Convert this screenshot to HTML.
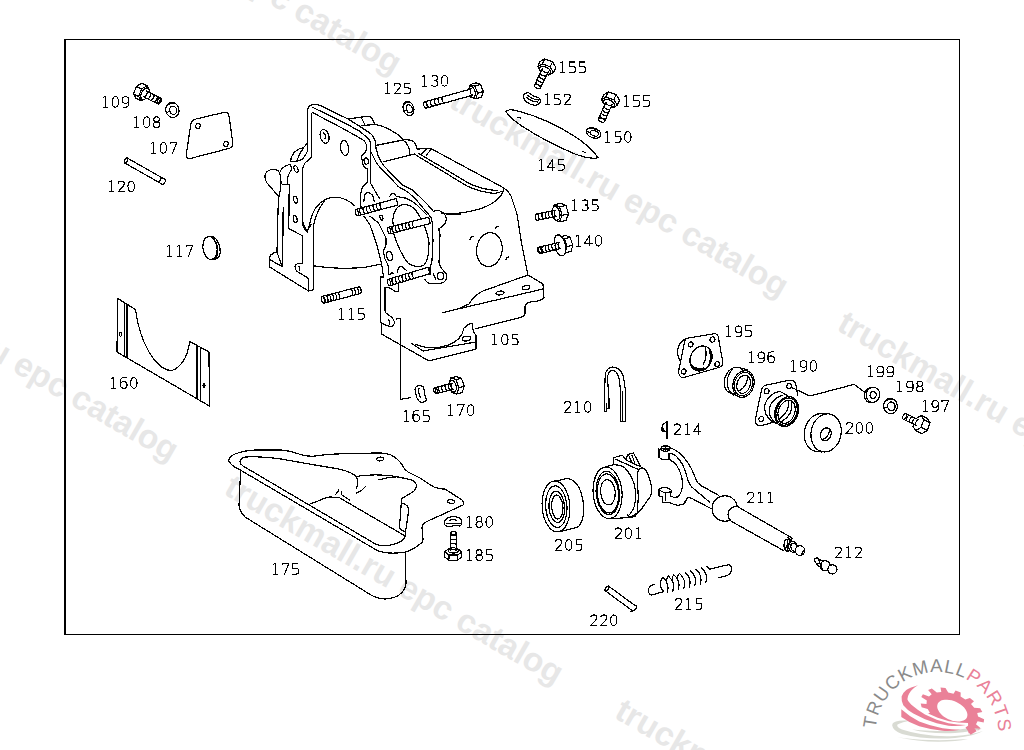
<!DOCTYPE html>
<html><head><meta charset="utf-8"><title>EPC catalog</title>
<style>
html,body{margin:0;padding:0;background:#fff;}
body{width:1024px;height:750px;overflow:hidden;position:relative;font-family:"Liberation Sans",sans-serif;}
svg{position:absolute;left:0;top:0;display:block}
.wm text{font-family:"Liberation Sans",sans-serif;font-weight:bold;font-size:33.4px;fill:#e7e7e7;}
.ln{shape-rendering:crispEdges;fill:none;stroke:#000;stroke-width:1.2;stroke-linecap:round;stroke-linejoin:round}
.ln .w{fill:#fff}
.ln .wf{fill:#fff;stroke:none}
.lb{shape-rendering:crispEdges;fill:none;stroke:#000;stroke-width:1.1;stroke-linecap:butt;stroke-linejoin:miter}
.fr{fill:none;stroke:#000;shape-rendering:crispEdges}
</style></head><body>
<svg width="1024" height="750" viewBox="0 0 1024 750">
<defs>
<g id="d0"><ellipse cx="5" cy="5.9" rx="3.25" ry="5.35"/></g>
<g id="d1"><path d="M2.4,11.3H7.6M5,11.3V0.5L2.6,1.5"/></g>
<g id="d2"><path d="M1.9,2.9C1.9,1.4 3.2,0.55 5,0.55C6.9,0.55 8.1,1.6 8.1,3.2C8.1,4.6 7.2,5.6 5.8,7L1.9,11.25H8.4"/></g>
<g id="d3"><path d="M2.2,1.6C3,0.9 4,0.55 5,0.55C6.8,0.55 8,1.6 8,3.1C8,4.6 6.8,5.6 4.8,5.6C7,5.6 8.3,6.7 8.3,8.4C8.3,10.1 7,11.25 5,11.25C3.8,11.25 2.8,10.9 1.9,10.2"/></g>
<g id="d4"><path d="M6.4,11.6V0.4L1.2,8.3H9.2"/></g>
<g id="d5"><path d="M8.1,0.55H2.4V5.1H5.4C7.3,5.1 8.3,6.3 8.3,8.1C8.3,10 7.3,11.25 5.4,11.25H2"/></g>
<g id="d6"><path d="M7.8,0.55H5.2C3,0.55 1.75,2 1.75,4.4V7.9"/><ellipse cx="5" cy="7.9" rx="3.25" ry="3.35"/></g>
<g id="d7"><path d="M1.8,2V0.55H8.3L4,11.6"/></g>
<g id="d8"><ellipse cx="5" cy="3.15" rx="2.8" ry="2.6"/><ellipse cx="5" cy="8.5" rx="3.25" ry="2.75"/></g>
<g id="d9"><path d="M2.2,11.25H4.8C7,11.25 8.25,9.8 8.25,7.4V3.9"/><ellipse cx="5" cy="3.9" rx="3.25" ry="3.35"/></g>
</defs>
<g class="wm">
<text transform="translate(447.4,106.2) rotate(30)">truckmall.ru epc catalog</text>
<text transform="translate(835.4,329.2) rotate(30)">truckmall.ru epc catalog</text>
<text transform="translate(222.4,493.2) rotate(30)">truckmall.ru epc catalog</text>
<text transform="translate(-162.6,270.2) rotate(30)">truckmall.ru epc catalog</text>
<text transform="translate(60.4,-116.8) rotate(30)">truckmall.ru epc catalog</text>
<text transform="translate(612.9,716.9) rotate(30)">truckmall.ru epc catalog</text>
</g>
<g class="fr">
<line x1="65" y1="39" x2="65" y2="635" stroke-width="2"/>
<line x1="64" y1="39.5" x2="960" y2="39.5" stroke-width="1"/>
<line x1="959.5" y1="39" x2="959.5" y2="635" stroke-width="1"/>
<line x1="64" y1="634.5" x2="960" y2="634.5" stroke-width="1"/>
</g>
<g class="ln">
<path d="M307.7,149.8V109.4Q308.5,105.5 312,104.8Q316.8,104 320.8,105.8L348,119L360.8,127L370.4,133.4Q374,136.5 374.8,140L375.6,143L376,148.4L378.4,156.4Q380.5,161 383.2,165L392,174.6L402.4,185L412,189.8L420,197L428,205L432.8,210.6M312,107L344.8,123L359.2,131L368,138.2Q370,140.5 370.4,143L370.4,182.8L379.6,198.8M311.6,157V114.2Q311.6,112.5 313,112.8L340,127L356,135.8L364,140.6Q366,142.5 366.2,144.6L366.4,149.4Q365.5,152.5 363.2,154Q361.5,156 361.6,157.2L363.2,165.2Q364.5,168 367.6,169.2V182Q365.5,184.5 363.2,186Q361,189 360.5,198L361,208M370.4,151.6L372,154L376,162Q378,165 380,167.4L388,175.4L398.4,186.6L408,192.2L416,199.4L423.2,208.2L428,213.8L431.2,217.8L432.8,225L432.2,232L433,240L432,260Q431.5,265 430,267V275M311.6,157L305,163Q303,166 302.6,169L302.4,222Q302.6,228 307.2,232.2L309.6,224.4M364,201.2C364,196 365,193 367.5,192.5C371,192.5 373.5,196 374.2,201.2"/>
<ellipse cx="324.6" cy="136.4" rx="4.3" ry="7" transform="rotate(-15 324.6 136.4)"/>
<path d="M323.5,133Q326,134 325,138.5"/>
<ellipse cx="344.6" cy="148" rx="4" ry="7.5" transform="rotate(-8 344.6 148)"/>
<ellipse cx="366.2" cy="161" rx="2.1" ry="3.2" transform="rotate(-10 366.2 161)"/>
<path d="M289.2,184.8L288.8,228.5L302.7,236V263.7H297.5Q294.5,265 295.2,267.5Q295.5,270 297,271.3L307,277.5Q308.5,278.5 308.5,280V291M299,266.4Q300.3,268 299.5,270.2M307.7,142.9L303.8,147.4Q299,148.3 294.2,152.2Q291.5,155.5 290.3,161.8M303.8,147.4Q299.5,153 296.6,161.2M307.7,149.8Q306.8,154.5 302,159.4Q299.5,161.2 296,161.3L290.6,161.2M279,196.8L267,183C263.5,178 264.5,172 270,170C275,168.5 279,170.5 279.6,172.8C281,177 282,185 279,196.8M279.6,172.8C281,169 285,165.5 289.8,164.4C291.5,166 291.5,169 291,170.4C289,174 287,177 287.4,180L288,184.8H282.6M278.4,196.8L277,252L281.9,266.4M283.2,207.6L282.4,266.4M282.9,212V236"/>
<ellipse cx="296" cy="169" rx="1.9" ry="3.5" transform="rotate(-20 296 169)"/>
<ellipse cx="295.6" cy="199.8" rx="1.9" ry="3.5" transform="rotate(-15 295.6 199.8)"/>
<ellipse cx="295.2" cy="219" rx="1.9" ry="3.5" transform="rotate(-10 295.2 219)"/>
<path d="M309.6,224.4C311,217 313,212 316,207.5C321,201 327,197.5 334.2,197.2C342,197 349,200.5 355,206M313.8,224.4C315,218 317,213 319.5,208.5C321,205.5 323,203 324.6,201M313.7,224.4V289.8L308.5,291L269.6,267V257Q271,253.5 276.5,252M269.6,259.5L281.9,266.4M302.7,222L306.9,231.7L311.2,224.3M313.9,265.9C330,268.5 350,269 367,267L381.5,264"/>
<path d="M348,119L359.2,117.4L368.8,116.2Q371,116.8 372,118.2L374.8,124.6M361.6,118.2L364.8,124.6M362,125.4L374.8,124.6C384,125.5 396,132 403,139M375.5,145.5L403,140Q409,139 413.5,141.5M383,162L415,154M403,140C408,143 410.5,150 409,155.5M413.5,141.5Q416.5,144 417,149M417,149L431,148.6L504,188Q509,192 511,196L517,214L521,240L528,275M426,149.5L421.5,154M431,149.5L426.5,155M415,154.5L467,186Q481,192.5 495,193.5L503.5,191M418,153L471,184.5Q485,190 497,190.5M504,188C503,197 493,205 478,209.5C465,213 450,214.5 441,213M433.6,211.4Q438,209.5 442,212Q446.5,215 446.2,219.5Q445.5,224.5 442,226.5L438.8,229L440,235L439,263Q440,267 442,269L446.5,274Q447,280 444,282L440,283.5H429Q426,282 425,279.5M446.2,214.4H460M433,273L436,280"/>
<path d="M392.8,220C393,212 397,206 402.4,204.8C409,203.5 415,208 419.2,215.6C423,222 427.5,232 429,243Q429,256 426,262Q424,266 422,266Q416,268 408,263Q400,253 394,235L392.8,220.4M389.8,196.5Q391,193 393.5,193.5Q395.5,194.5 396.4,196.4L406,198.2Q412,200.5 416.8,204.8L426.4,214.4M364,216.2L370,225L377,245L381.5,263L383.5,277M370,216.2L378.4,222.8L386,238V245L383.5,251L384.5,258L388,265L389,275M397.5,272Q398,267 401,266L406.5,270.5M390.5,274L392,272.5L393.5,273.5"/>
<ellipse cx="381.4" cy="217.6" rx="1.4" ry="2.6" transform="rotate(-15 381.4 217.6)"/>
<ellipse cx="389.5" cy="256" rx="2.8" ry="4.8" transform="rotate(-15 389.5 256)"/>
<ellipse cx="440.5" cy="275.8" rx="3.3" ry="3.6"/>
<path class="wf" d="M396.1,198.6L355.9,209.4L355.5,209.8L355.2,210.6L355.1,211.7L355.4,213L355.8,214.2L356.4,215.1L357,215.7L357.7,215.8L397.9,205Z"/><path d="M396.1,198.6L355.9,209.4M397.9,205L357.7,215.8M355.9,209.4L355.5,209.8L355.2,210.6L355.1,211.7L355.4,213L355.8,214.2L356.4,215.1L357,215.7L357.7,215.8L358.1,215.4L358.4,214.6L358.5,213.5L358.2,212.2L357.8,211L357.2,210.1L356.6,209.5L355.9,209.4ZM396.1,198.6L397.9,205M380.7,202.8L380.1,203.4L379.9,204.7L380.1,206.3L380.7,207.9L381.6,208.9L382.4,209.1M377.3,203.7L376.7,204.3L376.5,205.6L376.7,207.2L377.4,208.8L378.2,209.8L379,210M373.9,204.6L373.3,205.2L373.1,206.5L373.4,208.2L374,209.7L374.8,210.7L375.6,211M370.6,205.5L369.9,206.1L369.7,207.4L370,209.1L370.6,210.6L371.4,211.6L372.3,211.9M367.2,206.4L366.6,207L366.4,208.3L366.6,210L367.2,211.5L368.1,212.5L368.9,212.8M363.8,207.3L363.2,207.9L363,209.2L363.2,210.9L363.8,212.4L364.7,213.4L365.5,213.7M360.4,208.2L359.8,208.8L359.6,210.1L359.8,211.8L360.5,213.3L361.3,214.4L362.1,214.6"/>
<path class="wf" d="M428.6,217.2L388.4,227.4L387.9,227.8L387.6,228.6L387.6,229.7L387.8,231L388.2,232.2L388.8,233.1L389.4,233.7L390,233.8L430.2,223.6Z"/><path d="M428.6,217.2L388.4,227.4M430.2,223.6L390,233.8M388.4,227.4L387.9,227.8L387.6,228.6L387.6,229.7L387.8,231L388.2,232.2L388.8,233.1L389.4,233.7L390,233.8L390.5,233.4L390.8,232.6L390.8,231.5L390.6,230.2L390.2,229L389.6,228.1L389,227.5L388.4,227.4ZM428.6,217.2L430.2,223.6M413.1,221.1L412.5,221.7L412.2,223.1L412.5,224.7L413.1,226.3L413.9,227.3L414.7,227.5M409.7,222L409.1,222.6L408.8,223.9L409.1,225.6L409.7,227.1L410.5,228.1L411.3,228.4M406.3,222.9L405.7,223.5L405.5,224.8L405.7,226.4L406.3,228L407.1,229L407.9,229.3M402.9,223.7L402.3,224.3L402.1,225.6L402.3,227.3L402.9,228.8L403.7,229.9L404.5,230.1M399.5,224.6L398.9,225.2L398.7,226.5L398.9,228.1L399.5,229.7L400.3,230.7L401.1,231M396.1,225.4L395.5,226.1L395.3,227.4L395.5,229L396.1,230.6L396.9,231.6L397.7,231.8M392.7,226.3L392.1,226.9L391.9,228.2L392.1,229.9L392.7,231.4L393.5,232.5L394.3,232.7"/>
<path class="wf" d="M428.1,267.3L388.1,279.3L387.6,279.7L387.3,280.6L387.3,281.7L387.6,282.9L388,284.1L388.7,285L389.3,285.6L389.9,285.7L429.9,273.7Z"/><path d="M428.1,267.3L388.1,279.3M429.9,273.7L389.9,285.7M388.1,279.3L387.6,279.7L387.3,280.6L387.3,281.7L387.6,282.9L388,284.1L388.7,285L389.3,285.6L389.9,285.7L390.4,285.3L390.7,284.4L390.7,283.3L390.4,282.1L390,280.9L389.3,280L388.7,279.4L388.1,279.3ZM428.1,267.3L429.9,273.7M412.7,271.9L412.1,272.6L412,273.9L412.3,275.5L412.9,277L413.8,278L414.6,278.3M409.4,272.9L408.8,273.6L408.6,274.9L408.9,276.5L409.6,278.1L410.4,279.1L411.3,279.3M406,273.9L405.4,274.6L405.3,275.9L405.5,277.5L406.2,279.1L407.1,280.1L407.9,280.3M402.7,275L402.1,275.6L401.9,276.9L402.2,278.5L402.9,280.1L403.7,281.1L404.6,281.3M399.3,276L398.7,276.6L398.6,277.9L398.8,279.5L399.5,281.1L400.4,282.1L401.2,282.3M396,277L395.4,277.6L395.2,278.9L395.5,280.6L396.2,282.1L397,283.1L397.9,283.3M392.6,278L392,278.6L391.9,279.9L392.1,281.6L392.8,283.1L393.7,284.1L394.5,284.3"/>
<path d="M384,277H380.5V322L381.5,323V334L400,344.5L429,361L476,349V335Q473.5,333 473,330L472,323Q468,324 464,328M398.5,285V291L396,292L389,287.5H385V310Q385,313 388,314.5Q393,317.5 394.5,322Q394,326 391,326.5Q386,326 381.5,323M388.5,319.5Q390.5,321.5 389.5,324M396.5,319L400.6,318.5M411,343L423,351L476,342M415,344C424,348 433,348.5 441,347C451,345 459,340 462,334L464,328M528,275L543,284L544,298Q540,301 535,301.5Q526,302 525,306V314Q523,317.5 519,318L475,329M528,275L483,291Q475,294.5 469,304L457,309.5M443,312.5L543,289"/>
<ellipse cx="500" cy="293" rx="4" ry="1.9" transform="rotate(-8 500 293)"/>
<ellipse cx="526" cy="287.6" rx="4" ry="1.9" transform="rotate(-8 526 287.6)"/>
<ellipse cx="466.6" cy="338.6" rx="4.3" ry="2.3" transform="rotate(-8 466.6 338.6)"/>
<ellipse cx="489.4" cy="249.6" rx="12.8" ry="17" transform="rotate(8 489.4 249.6)"/>
<path d="M470,240Q470,236.5 473,236.5M506,260Q506,257 509,257M495,229Q496,226 499,227"/>
<path d="M400.6,318.5V399.4L410.6,397.6"/>
<path class="w" d="M133.5,93.9L136.4,86.3L141.9,83.2L147,85.8L149.6,90.2L146.6,97.8L141.2,100.9L136,98.3Z"/><path d="M147,85.8L141.6,88.9L138.7,96.5L141.2,100.9L146.6,97.8L149.6,90.2ZM141.9,83.2L136.4,86.3L133.5,93.9L136,98.3M147,85.8L141.9,83.2M141.6,88.9L136.4,86.3M138.7,96.5L133.5,93.9M141.2,100.9L136,98.3"/><path class="w" d="M147.8,88.2L146.7,88L145.5,88.3L144.2,89.2L142.9,90.6L141.9,92.2L141.2,94.1L140.8,95.8L140.9,97.4L141.3,98.7L142.2,99.4L143.3,99.6L144.5,99.3L145.8,98.4L147.1,97L148.1,95.4L148.8,93.5L149.2,91.8L149.1,90.2L148.7,88.9L147.8,88.2Z"/><path class="wf" d="M143.5,96.7L157.8,103.9L158.5,104L159.4,103.7L160.2,102.9L160.9,101.8L161.4,100.6L161.5,99.5L161.3,98.6L160.8,98.1L146.5,90.9Z"/><path d="M143.5,96.7L157.8,103.9M146.5,90.9L160.8,98.1M157.8,103.9L158.5,104L159.4,103.7L160.2,102.9L160.9,101.8L161.4,100.6L161.5,99.5L161.3,98.6L160.8,98.1L160.1,98L159.2,98.3L158.4,99.1L157.7,100.2L157.2,101.4L157.1,102.5L157.3,103.4L157.8,103.9ZM143.5,96.7L144.2,96.8L145.1,96.5L145.9,95.7L146.6,94.6L147.1,93.4L147.2,92.3L147,91.4L146.5,90.9M147.1,98.6L148.1,98.6L149.2,97.8L150.2,96.4L150.7,94.8L150.7,93.5L150.1,92.7M150.3,100.2L151.3,100.2L152.5,99.4L153.4,98L153.9,96.5L153.9,95.1L153.3,94.3M153.5,101.8L154.5,101.8L155.7,101L156.6,99.7L157.2,98.1L157.1,96.7L156.5,95.9M156.7,103.4L157.8,103.4L158.9,102.6L159.8,101.3L160.4,99.7L160.3,98.3L159.7,97.5"/>
<ellipse cx="172.4" cy="110" rx="6.6" ry="7.6" transform="rotate(-15 172.4 110)"/><ellipse cx="173.2" cy="110.3" rx="3.6" ry="4.2" transform="rotate(-15 173.2 110.3)"/><path transform="rotate(-15 172.4 110)" d="M165.8,111L169.8,110.5M166.5,106.2Q170.4,102 176.4,103.9"/>
<path d="M190.8,124Q192,120 196,119L224,112.4Q228.5,111.5 229,116L232.8,143Q233.3,147 229.5,148.3L191,158.3Q186,159.2 186.3,154.5Z"/>
<ellipse cx="198" cy="126" rx="2.2" ry="2.7" transform="rotate(20 198 126)"/>
<ellipse cx="226" cy="144" rx="2.2" ry="2.7" transform="rotate(20 226 144)"/>
<path class="wf" d="M124.6,162.9L162.1,184.2L162.7,184.3L163.4,184L164.1,183.4L164.7,182.5L165.2,181.5L165.3,180.6L165.2,179.8L164.9,179.4L127.4,158.1Z"/><path d="M124.6,162.9L162.1,184.2M127.4,158.1L164.9,179.4M162.1,184.2L162.7,184.3L163.4,184L164.1,183.4L164.7,182.5L165.2,181.5L165.3,180.6L165.2,179.8L164.9,179.4M124.6,162.9L125.2,163L125.9,162.7L126.6,162.1L127.2,161.2L127.7,160.2L127.8,159.3L127.7,158.5L127.4,158.1L126.8,158L126.1,158.3L125.4,158.9L124.8,159.8L124.3,160.8L124.2,161.7L124.3,162.5L124.6,162.9ZM157.8,181.8L158.6,181.8L159.6,181.2L160.4,180.1L161,178.7L161,177.6L160.6,176.9"/>
<ellipse cx="210" cy="248" rx="7" ry="11.6" transform="rotate(-8 210 248)"/>
<path d="M209,236.6Q213,235.5 216,239Q221,246 220,254Q219,259 213,259.5M211.5,236.6Q218.5,243 217.5,253Q217,258 214,259.5"/>
<ellipse cx="408.5" cy="108.5" rx="5.2" ry="7.4" transform="rotate(-20 408.5 108.5)"/><ellipse cx="409.3" cy="108.8" rx="2.9" ry="4.1" transform="rotate(-20 409.3 108.8)"/><path transform="rotate(-20 408.5 108.5)" d="M403.3,109.5L406.4,109M403.8,104.8Q406.9,100.7 411.6,102.6"/>
<path class="w" d="M468.4,90.2L470.2,84.5L476,82.9L480.6,84.4L483.3,91.6L481.5,97.3L475.8,98.9L471.1,97.4Z"/><path d="M475.7,98.9L477.6,93.2L474.8,86L470.2,84.5L468.4,90.2L471.1,97.4ZM481.5,97.3L483.3,91.6L480.6,84.4L476,82.9M475.7,98.9L481.5,97.3M477.6,93.2L483.3,91.6M474.8,86L480.6,84.4M470.2,84.5L476,82.9"/><path class="w" d="M473.5,97.4L474.4,96.9L475,95.9L475.3,94.5L475.3,92.9L475,91.2L474.4,89.5L473.5,88.2L472.5,87.1L471.5,86.6L470.5,86.6L469.6,87.1L469,88.1L468.7,89.5L468.7,91.1L469,92.8L469.6,94.5L470.5,95.8L471.5,96.9L472.5,97.4L473.5,97.4Z"/><path class="wf" d="M471.1,88.9L424.6,101.9L424.1,102.3L423.7,103.2L423.6,104.3L423.8,105.5L424.3,106.6L424.9,107.5L425.6,108L426.4,108.1L472.9,95.1Z"/><path d="M471.1,88.9L424.6,101.9M472.9,95.1L426.4,108.1M424.6,101.9L424.1,102.3L423.7,103.2L423.6,104.3L423.8,105.5L424.3,106.6L424.9,107.5L425.6,108L426.4,108.1L426.9,107.7L427.3,106.8L427.4,105.7L427.2,104.5L426.7,103.4L426.1,102.5L425.4,102L424.6,101.9ZM471.1,88.9L470.6,89.3L470.2,90.2L470.1,91.3L470.3,92.5L470.8,93.6L471.4,94.5L472.1,95L472.9,95.1M442.9,96.8L442.2,97.5L441.9,98.8L442.1,100.4L442.8,101.8L443.7,102.8L444.7,103M439.1,97.9L438.4,98.5L438,99.8L438.3,101.4L438.9,102.9L439.8,103.9L440.8,104M435.2,99L434.5,99.6L434.2,100.9L434.4,102.5L435.1,104L436,104.9L437,105.1M431.4,100L430.6,100.7L430.3,102L430.5,103.6L431.2,105.1L432.1,106L433.1,106.2M427.5,101.1L426.8,101.8L426.5,103.1L426.7,104.7L427.4,106.1L428.3,107.1L429.3,107.3"/>
<path class="w" d="M537.7,66.6L540.1,61.6L544.6,59L552.5,61.9L555.9,67.4L553.5,72.4L549,75.1L541.1,72.2Z"/><path d="M553.5,72.4L550.2,66.8L542.3,63.9L537.7,66.6L541.1,72.2L549,75.1ZM555.9,67.4L552.5,61.8L544.7,58.9L540.1,61.6M553.5,72.4L555.9,67.4M550.2,66.8L552.5,61.8M542.3,63.9L544.7,58.9M537.7,66.6L540.1,61.6"/><path class="w" d="M550.6,73L550.8,72L550.4,70.8L549.5,69.5L548.2,68.4L546.6,67.4L544.9,66.8L543.2,66.5L541.7,66.5L540.5,67L539.8,67.8L539.6,68.8L540,70L540.9,71.3L542.2,72.4L543.8,73.4L545.5,74L547.2,74.3L548.7,74.3L549.9,73.8L550.6,73Z"/><path class="wf" d="M542.2,69L534.4,85.2L534.4,85.9L534.7,86.7L535.5,87.6L536.6,88.2L537.8,88.7L538.9,88.8L539.8,88.5L540.4,88L548.2,71.8Z"/><path d="M542.2,69L534.4,85.2M548.2,71.8L540.4,88M534.4,85.2L534.4,85.9L534.7,86.7L535.5,87.6L536.6,88.2L537.8,88.7L538.9,88.8L539.8,88.5L540.4,88L540.4,87.3L540.1,86.5L539.3,85.6L538.2,85L537,84.5L535.9,84.4L535,84.7L534.4,85.2ZM542.2,69L542.2,69.7L542.5,70.5L543.3,71.4L544.4,72L545.6,72.5L546.7,72.6L547.6,72.3L548.2,71.8M540.5,72.6L540.5,73.6L541.3,74.7L542.7,75.6L544.3,76.1L545.7,76L546.4,75.4M539,75.6L539,76.6L539.8,77.7L541.2,78.7L542.8,79.2L544.2,79.1L545,78.5M537.6,78.7L537.6,79.7L538.4,80.8L539.7,81.7L541.3,82.2L542.7,82.2L543.5,81.5M536.1,81.7L536.1,82.8L536.9,83.9L538.3,84.8L539.9,85.3L541.2,85.2L542,84.6"/>
<path class="w" d="M601.4,99.8L603.7,94.8L608.1,92L616.1,94.6L619.6,100.1L617.4,105.2L612.9,108L605,105.3Z"/><path d="M617.4,105.2L613.9,99.7L605.9,97L601.4,99.8L605,105.3L612.9,108ZM619.6,100.1L616.1,94.6L608.1,92L603.7,94.8M617.4,105.2L619.6,100.1M613.9,99.7L616.1,94.6M605.9,97L608.1,92M601.4,99.8L603.7,94.8"/><path class="w" d="M614.5,105.8L614.6,104.8L614.2,103.6L613.3,102.4L612,101.3L610.3,100.4L608.6,99.8L606.9,99.5L605.4,99.7L604.2,100.1L603.5,101L603.4,102L603.8,103.2L604.7,104.4L606,105.5L607.7,106.4L609.4,107L611.1,107.3L612.6,107.1L613.8,106.7L614.5,105.8Z"/><path class="wf" d="M606,102.1L598.5,118.9L598.4,119.6L598.8,120.4L599.7,121.2L600.8,121.9L602,122.2L603.1,122.3L604,122.1L604.5,121.5L612,104.7Z"/><path d="M606,102.1L598.5,118.9M612,104.7L604.5,121.5M598.5,118.9L598.4,119.6L598.8,120.4L599.7,121.2L600.8,121.9L602,122.2L603.1,122.3L604,122.1L604.5,121.5L604.6,120.8L604.2,120L603.3,119.2L602.2,118.5L601,118.2L599.9,118.1L599,118.3L598.5,118.9ZM606,102.1L605.9,102.8L606.3,103.6L607.2,104.4L608.3,105.1L609.5,105.4L610.6,105.5L611.5,105.3L612,104.7M604.2,106.1L604.2,107.1L605.1,108.2L606.5,109.1L608.1,109.5L609.4,109.4L610.2,108.8M602.8,109.2L602.8,110.2L603.7,111.3L605.1,112.2L606.7,112.6L608.1,112.5L608.8,111.9M601.4,112.3L601.5,113.3L602.3,114.4L603.7,115.3L605.3,115.7L606.7,115.6L607.4,115M600,115.4L600.1,116.4L600.9,117.5L602.3,118.4L603.9,118.8L605.3,118.7L606.1,118.1"/>
<path d="M524,94.6Q526,92 529,93Q533,96.5 539.6,98.2Q541,100 540,102.5Q538,105.5 535,105.4Q530,105 526,101.5Q522.5,98.5 524,94.6ZM526.5,97.2Q531,101.8 537.5,102M528,95.5Q532,99.3 538.5,100"/>
<ellipse cx="593.6" cy="133" rx="7.6" ry="4.8" transform="rotate(20 593.6 133)"/><ellipse cx="594.4" cy="133.3" rx="4.2" ry="2.6" transform="rotate(20 594.4 133.3)"/><path transform="rotate(20 593.6 133)" d="M586,134L590.6,133.5M586.8,130.6Q591.3,128 598.2,129.2"/>
<path d="M506,111.3Q508.5,108.5 518,111Q548,119 575,136.5Q592,148 598,157.8Q590,159.5 575,154Q548,143 521,125.5Q508,116.5 506,111.3Z"/>
<path d="M518,117.2L521,118.2M582.5,151.5L585.5,152.5"/>
<path class="w" d="M551.8,211.1L554.4,204.7L560.8,203.4L566,205.6L568.5,214.1L565.9,220.5L559.5,221.7L554.4,219.6Z"/><path d="M559.5,221.7L562.1,215.3L559.6,206.8L554.4,204.7L551.8,211.1L554.4,219.6ZM565.9,220.5L568.5,214.1L566,205.6L560.8,203.4M559.5,221.7L565.9,220.5M562.1,215.3L568.5,214.1M559.6,206.8L566,205.6M554.4,204.7L560.8,203.4"/><path class="w" d="M557.3,220.3L558.4,219.7L559.3,218.5L559.8,216.8L560,214.8L559.8,212.7L559.2,210.6L558.3,208.8L557.1,207.4L555.9,206.6L554.7,206.5L553.6,207.1L552.7,208.3L552.2,210L552,212L552.2,214.1L552.8,216.2L553.7,218L554.9,219.4L556.1,220.2L557.3,220.3Z"/><path class="wf" d="M555.4,210.3L536.4,214L535.8,214.3L535.3,215.1L535.2,216.2L535.3,217.4L535.6,218.6L536.2,219.6L536.9,220.1L537.6,220.2L556.6,216.5Z"/><path d="M555.4,210.3L536.4,214M556.6,216.5L537.6,220.2M536.4,214L535.8,214.3L535.3,215.1L535.2,216.2L535.3,217.4L535.6,218.6L536.2,219.6L536.9,220.1L537.6,220.2L538.2,219.9L538.7,219.1L538.8,218L538.7,216.8L538.4,215.6L537.8,214.6L537.1,214.1L536.4,214ZM555.4,210.3L554.8,210.6L554.3,211.4L554.2,212.5L554.3,213.7L554.6,214.9L555.2,215.9L555.9,216.4L556.6,216.5M553.1,210.7L552.3,211.3L551.9,212.6L552,214.2L552.5,215.7L553.4,216.7L554.3,217M549.7,211.4L549,211.9L548.5,213.2L548.6,214.8L549.2,216.4L550,217.4L551,217.6M546.4,212L545.6,212.6L545.2,213.9L545.3,215.5L545.8,217L546.7,218L547.6,218.3M543.1,212.7L542.3,213.2L541.9,214.5L541.9,216.1L542.5,217.7L543.3,218.7L544.3,218.9M539.7,213.3L538.9,213.9L538.5,215.2L538.6,216.8L539.1,218.3L540,219.3L540.9,219.6"/>
<path class="w" d="M557.9,242.9L559.7,236.8L565.6,235.4L570.1,237.3L572.8,245.3L571,251.4L565.1,252.8L560.5,250.9Z"/><path d="M565.1,252.8L567,246.7L564.3,238.7L559.7,236.8L557.9,242.9L560.6,250.9ZM571,251.4L572.8,245.3L570.1,237.3L565.6,235.4M565.1,252.8L571,251.4M567,246.7L572.8,245.3M564.3,238.7L570.1,237.3M559.7,236.8L565.6,235.4"/><path class="w" d="M562.5,255.9L564,255L565.1,253.1L565.7,250.5L565.8,247.4L565.2,244.1L564.2,240.9L562.7,238.2L561,236.2L559.2,235L557.5,234.9L556,235.8L554.9,237.7L554.3,240.3L554.2,243.4L554.8,246.7L555.8,249.9L557.3,252.6L559,254.6L560.8,255.8L562.5,255.9Z"/><path class="wf" d="M559.2,242.3L538.6,247.3L538,247.7L537.7,248.5L537.5,249.6L537.7,250.8L538.1,252L538.7,252.9L539.4,253.4L540.2,253.5L560.8,248.5Z"/><path d="M559.2,242.3L538.6,247.3M560.8,248.5L540.2,253.5M538.6,247.3L538,247.7L537.7,248.5L537.5,249.6L537.7,250.8L538.1,252L538.7,252.9L539.4,253.4L540.2,253.5L540.8,253.1L541.1,252.3L541.3,251.2L541.1,250L540.7,248.8L540.1,247.9L539.4,247.4L538.6,247.3ZM559.2,242.3L558.6,242.7L558.3,243.5L558.1,244.6L558.3,245.8L558.7,247L559.3,247.9L560,248.4L560.8,248.5M556.1,243L555.4,243.7L555,245L555.2,246.6L555.8,248.1L556.7,249.1L557.6,249.3M552.8,243.8L552.1,244.5L551.7,245.8L551.9,247.4L552.5,248.9L553.4,249.9L554.3,250.1M549.5,244.6L548.8,245.3L548.4,246.6L548.6,248.2L549.2,249.7L550.1,250.7L551,250.9M546.2,245.5L545.5,246.1L545.1,247.4L545.3,249L545.9,250.5L546.8,251.5L547.7,251.7M542.9,246.3L542.2,246.9L541.8,248.2L542,249.8L542.6,251.3L543.5,252.3L544.4,252.5M539.6,247.1L538.9,247.7L538.5,249L538.7,250.6L539.3,252.1L540.2,253.1L541.1,253.3"/>
<path class="wf" d="M323.9,303.1L360.4,293.5L360.9,293.1L361.2,292.2L361.2,291.1L361,289.8L360.5,288.6L359.9,287.6L359.3,287L358.6,286.9L322.1,296.5Z"/><path d="M323.9,303.1L360.4,293.5M322.1,296.5L358.6,286.9M360.4,293.5L360.9,293.1L361.2,292.2L361.2,291.1L361,289.8L360.5,288.6L359.9,287.6L359.3,287L358.6,286.9M323.9,303.1L324.4,302.7L324.7,301.8L324.7,300.7L324.5,299.4L324,298.2L323.4,297.2L322.8,296.6L322.1,296.5L321.6,296.9L321.3,297.8L321.3,298.9L321.5,300.2L322,301.4L322.6,302.4L323.2,303L323.9,303.1ZM324.3,303L325,302.3L325.2,301L325,299.3L324.3,297.7L323.5,296.6L322.6,296.4M327.2,302.2L327.9,301.6L328.1,300.2L327.9,298.5L327.2,296.9L326.4,295.9L325.5,295.6M330.2,301.4L330.8,300.8L331,299.5L330.8,297.8L330.1,296.2L329.3,295.1L328.4,294.9M333.1,300.7L333.7,300L333.9,298.7L333.7,297L333,295.4L332.2,294.3L331.3,294.1M336,299.9L336.6,299.3L336.8,297.9L336.6,296.2L335.9,294.6L335.1,293.6L334.2,293.3M338.9,299.1L339.5,298.5L339.7,297.2L339.5,295.5L338.8,293.9L338,292.8L337.1,292.6M351.9,295.7L352.5,295.1L352.8,293.7L352.5,292L351.9,290.4L351,289.4L350.2,289.1M354.8,294.9L355.4,294.3L355.7,293L355.4,291.3L354.8,289.7L353.9,288.6L353.1,288.4M357.7,294.2L358.3,293.6L358.6,292.2L358.3,290.5L357.7,288.9L356.8,287.9L356,287.6"/>
<path d="M117.6,298.4L135.6,309.6C137,322 140,336 149,352C155,362 162,369.5 170,370.5C178,370.5 185.5,360 188,350L190,341.6L209,352L209.4,406L117,352ZM124.6,303V356.5M127,304.5V358M197,346V399M200.4,347.6V401"/>
<ellipse cx="120.5" cy="334.4" rx="1.1" ry="1.8"/>
<ellipse cx="204" cy="385.4" rx="1.1" ry="1.8"/>
<path d="M415,389Q416,385 420.5,385.5Q423.5,386 424,389Q424,395 426.5,400Q425,402.5 421,402.5Q416,400 415,389ZM419,388Q417.5,393 421,398"/>
<path class="w" d="M448.7,384.2L450.8,377.9L456.3,376.5L461.4,378.2L464.3,386.3L462.1,392.7L456.7,394.1L451.6,392.3Z"/><path d="M456.7,394L458.9,387.7L455.9,379.6L450.8,377.9L448.7,384.2L451.6,392.3ZM462.1,392.7L464.3,386.3L461.4,378.2L456.3,376.5M456.7,394L462.1,392.7M458.9,387.7L464.3,386.3M455.9,379.6L461.4,378.2M450.8,377.9L456.3,376.5"/><path class="w" d="M454.3,392L455.2,391.5L455.9,390.4L456.3,389L456.3,387.2L456,385.4L455.4,383.6L454.5,382.1L453.5,381L452.4,380.4L451.3,380.4L450.4,380.9L449.7,382L449.3,383.4L449.3,385.2L449.6,387L450.2,388.8L451.1,390.3L452.1,391.4L453.2,392L454.3,392Z"/><path class="wf" d="M452,383.2L434.8,387.6L434.3,388L433.9,388.8L433.8,389.8L433.9,391L434.4,392.1L435,393L435.7,393.5L436.4,393.6L453.6,389.2Z"/><path d="M452,383.2L434.8,387.6M453.6,389.2L436.4,393.6M434.8,387.6L434.3,388L433.9,388.8L433.8,389.8L433.9,391L434.4,392.1L435,393L435.7,393.5L436.4,393.6L436.9,393.2L437.3,392.4L437.4,391.4L437.3,390.2L436.8,389.1L436.2,388.2L435.5,387.7L434.8,387.6ZM452,383.2L451.5,383.6L451.1,384.4L451,385.4L451.1,386.6L451.6,387.7L452.2,388.6L452.9,389.1L453.6,389.2M449.4,383.9L448.6,384.5L448.3,385.7L448.5,387.3L449.1,388.8L450,389.7L450.9,389.9M446.1,384.7L445.3,385.3L445,386.6L445.2,388.1L445.8,389.6L446.7,390.5L447.6,390.7M442.8,385.6L442.1,386.2L441.7,387.4L441.9,389L442.5,390.4L443.4,391.4L444.3,391.6M439.5,386.4L438.8,387L438.4,388.3L438.6,389.8L439.2,391.3L440.1,392.2L441,392.4M436.2,387.2L435.5,387.9L435.1,389.1L435.3,390.7L435.9,392.1L436.8,393.1L437.7,393.3"/>
<path d="M444.5,522Q445,517.5 453,516.4Q461,517 461.8,521.5Q462,525 460,526L455.8,525.4L450,526.6L445.5,525.8Q444,524.5 444.5,522ZM448.9,521Q453,517.4 456.7,520.6M446.3,523.6H460"/>
<path class="w" d="M444.6,556.9L444.7,551.7L449,548.6L457.6,548.7L461.9,551.9L461.8,557.1L457.5,560.2L448.9,560.1Z"/><path d="M444.7,551.7L449,554.9L457.6,555L461.9,551.9L457.6,548.7L449,548.6ZM444.6,556.9L448.9,560.1L457.5,560.2L461.8,557.1M444.7,551.7L444.6,556.9M449,554.9L448.9,560.1M457.6,555L457.5,560.2M461.9,551.9L461.8,557.1"/><path class="w" d="M448.1,550.7L448.3,551.4L449.1,552L450.2,552.5L451.7,552.9L453.3,553L454.9,552.9L456.3,552.6L457.5,552.1L458.2,551.5L458.5,550.9L458.3,550.2L457.5,549.6L456.4,549.1L454.9,548.7L453.3,548.6L451.7,548.7L450.3,549L449.1,549.5L448.4,550.1L448.1,550.7Z"/><path class="wf" d="M456.2,550.8L456.4,533L456.2,532.5L455.6,532.1L454.6,531.8L453.5,531.7L452.4,531.8L451.5,532.1L450.8,532.5L450.6,533L450.4,550.8Z"/><path d="M456.2,550.8L456.4,533M450.4,550.8L450.6,533M456.4,533L456.2,532.5L455.6,532.1L454.6,531.8L453.5,531.7L452.4,531.8L451.5,532.1L450.8,532.5L450.6,533L450.8,533.5L451.4,533.9L452.4,534.2L453.5,534.3L454.6,534.2L455.5,533.9L456.2,533.5L456.4,533ZM456.2,550.8L456,550.3L455.4,549.9L454.4,549.6L453.3,549.5L452.2,549.6L451.3,549.9L450.6,550.3L450.4,550.8M456.2,549L455.8,548.4L454.8,547.9L453.3,547.7L451.9,547.9L450.8,548.3L450.4,549M456.3,544.8L455.9,544.2L454.8,543.7L453.4,543.5L451.9,543.7L450.9,544.1L450.5,544.8M456.3,540.6L455.9,540L454.9,539.5L453.4,539.3L452,539.5L450.9,539.9L450.5,540.6M456.4,536.4L456,535.8L454.9,535.3L453.5,535.1L452,535.3L451,535.7L450.6,536.4"/>
<path d="M228.6,460.6Q229.5,456.5 235,454Q244,450.5 255,450H281Q290,450.5 299,454Q307,457 315,456Q325,454.5 335,454L375,453Q385,452.5 391,455Q397,458 402,464.5Q404,469.5 408,472L420,478Q427,483 434,487Q440,489.5 445,489L462,500Q464,502.5 463,505L450,511L428,521Q422,523.5 422,528L423,539Q423,543 420,544Q413,550 405.3,552Q395,554 384,552.5Q378,551.5 373.3,548.2L240.6,470.2Q231,466 228.6,460.6ZM240,461.8Q241,457.5 246,457Q262,456 281,459L315,465L339,469Q350,471.5 355,475.5Q358.5,479 357.3,484L356.8,488.5M240,461.8Q240.5,464.5 243,466L375.4,544Q379.5,545.8 384,545.6Q390,545.5 394.6,544Q400,542.5 403.2,539.7Q405,537.5 405.3,535.4V532.2M240.6,470.2L239,505Q239.5,512 245,517L371,595Q378,599 385,599Q394,598.5 399,595Q405.5,590 406,584L405.3,552M309,504.4L320,500.3Q326,497 330.7,497L339.2,497.6L404.2,535.4M335.5,494.4Q338,492.5 338.7,489.6M341.3,491.2Q341,493.5 341.9,494.9L349.9,500.3M356.2,493.3Q362,491 365.8,486.4M356,476.5Q367,474.5 380,475Q392,475.5 398,477Q406,478.5 411.7,480Q416.5,482.5 416.5,485.9Q416,489 413.8,491.2L401.6,498.7L399.4,528.5L405.3,532.2M378,480Q386,477.5 396,477M401.6,502.9Q405,503.5 407.4,506.1Q409,508.5 408.5,512L405.3,533.3"/>
<ellipse cx="380.2" cy="459" rx="3.5" ry="1.9" transform="rotate(-5 380.2 459)"/>
<ellipse cx="451" cy="501.6" rx="3.5" ry="1.9" transform="rotate(10 451 501.6)"/>
<path d="M686,338.5Q678,343 677.5,351Q677.5,357 680,361"/>
<path class="w" d="M688.5,338L714,333.8Q717.6,333.4 718.3,337L722.6,361Q723.2,366 719.5,367.3L684.5,377.3Q679.6,378.2 678.8,373.5L678.6,371L684.8,341Q685.5,338.5 688.5,338Z"/>
<ellipse cx="690.7" cy="344.5" rx="2.3" ry="2.6" transform="rotate(25 690.7 344.5)"/>
<ellipse cx="712.5" cy="339.5" rx="2.3" ry="2.6" transform="rotate(25 712.5 339.5)"/>
<ellipse cx="717.3" cy="364" rx="2.3" ry="2.6" transform="rotate(25 717.3 364)"/>
<ellipse cx="683.8" cy="371.5" rx="2.3" ry="2.6" transform="rotate(25 683.8 371.5)"/>
<ellipse cx="701" cy="358.5" rx="10.6" ry="13" transform="rotate(28 701 358.5)"/>
<path d="M705,346.5Q708,356 703,365M709.5,350Q712,360 707.5,367.5M691.5,365Q696,370 704,368M693.5,368Q700,372 708,367"/>
<ellipse cx="735" cy="380.5" rx="10.4" ry="13.6" transform="rotate(18 735 380.5)"/>
<path d="M738.5,367.3L748,370M731.5,393.7L740,397"/>
<path d="M732,369.5Q726,377 727.5,386Q729,392 733.5,395"/>
<ellipse class="w" cx="743.5" cy="384" rx="10.4" ry="13.6" transform="rotate(18 743.5 384)"/>
<ellipse cx="743.5" cy="384" rx="9" ry="12" transform="rotate(18 743.5 384)"/>
<ellipse cx="743.6" cy="384.3" rx="6.6" ry="9.3" transform="rotate(18 743.6 384.3)"/>
<path d="M747.5,376Q748,385 740,390.5"/>
<path d="M763.6,386.2Q764.5,385.5 766,385.2L786.6,380.8L791.5,380.2Q794.5,380.5 795.7,383.4L797.9,396M763.6,386.2Q761.8,387.5 761.5,390L755.4,419.4Q755.2,424.5 758.5,425.6Q760.5,425.8 762,425.4L774.5,422"/>
<ellipse cx="766.7" cy="391.2" rx="2.3" ry="2.6" transform="rotate(25 766.7 391.2)"/>
<ellipse cx="789.2" cy="386" rx="2.3" ry="2.6" transform="rotate(25 789.2 386)"/>
<ellipse cx="761.3" cy="419" rx="2.3" ry="2.6" transform="rotate(25 761.3 419)"/>
<path d="M779.7,391.2Q768,394 764.8,405Q763.5,415 771.8,421.1"/>
<path d="M782.3,395.1Q772,399 769.3,408Q768.5,416 773.6,421.1"/>
<path d="M779.7,391.2L789,396.5M771.8,421.1L781,425.5"/>
<ellipse class="w" cx="786.6" cy="411.6" rx="11.4" ry="15.4" transform="rotate(20 786.6 411.6)"/>
<ellipse cx="786.6" cy="411.6" rx="10.2" ry="14" transform="rotate(20 786.6 411.6)"/>
<ellipse cx="786.6" cy="411.8" rx="8.2" ry="12" transform="rotate(20 786.6 411.8)"/>
<path d="M788.3,401.2Q790.5,411 779.7,418.5M791.5,403Q793.5,414 782,421.5"/>
<path d="M791,387.2L810,396L854,384.4L865.4,392.6"/>
<ellipse cx="871.2" cy="395" rx="6.8" ry="7.6" transform="rotate(15 871.2 395)"/>
<ellipse class="w" cx="873" cy="394.8" rx="6.8" ry="7.6" transform="rotate(15 873 394.8)"/>
<ellipse cx="873.2" cy="395" rx="3" ry="3.4" transform="rotate(15 873.2 395)"/>
<ellipse cx="890.5" cy="406" rx="6.8" ry="7.8" transform="rotate(-10 890.5 406)"/><ellipse cx="891.3" cy="406.3" rx="3.7" ry="4.3" transform="rotate(-10 891.3 406.3)"/><path transform="rotate(-10 890.5 406)" d="M883.7,407L887.8,406.5M884.4,402.1Q888.5,397.8 894.6,399.8"/>
<path class="w" d="M913,426.3L915.8,418.7L921.2,415.4L927.5,418.4L930.1,422.8L927.3,430.4L921.9,433.7L915.6,430.6Z"/><path d="M915.6,430.7L921,427.4L923.8,419.8L921.2,415.4L915.8,418.7L913,426.3ZM921.9,433.7L927.3,430.4L930.1,422.8L927.5,418.4M915.6,430.7L921.9,433.7M921,427.4L927.3,430.4M923.8,419.8L930.1,422.8M921.2,415.4L927.5,418.4"/><path class="wf" d="M918.8,419.8L905.9,413.6L905.3,413.5L904.5,413.9L903.7,414.6L903.1,415.7L902.7,416.8L902.6,417.9L902.8,418.7L903.3,419.2L916.2,425.4Z"/><path d="M918.8,419.8L905.9,413.6M916.2,425.4L903.3,419.2M905.9,413.6L905.3,413.5L904.5,413.9L903.7,414.6L903.1,415.7L902.7,416.8L902.6,417.9L902.8,418.7L903.3,419.2L903.9,419.3L904.7,418.9L905.5,418.2L906.1,417.1L906.5,416L906.6,414.9L906.4,414.1L905.9,413.6ZM918.8,419.8L918.2,419.7L917.4,420.1L916.6,420.8L916,421.9L915.6,423L915.5,424.1L915.7,424.9L916.2,425.4M915.9,418.4L914.9,418.4L913.9,419.1L913,420.4L912.5,421.9L912.6,423.2L913.2,424M912.8,416.9L911.8,416.9L910.8,417.7L909.9,419L909.4,420.4L909.5,421.7L910.1,422.5M909.7,415.4L908.8,415.4L907.7,416.2L906.8,417.5L906.4,419L906.5,420.3L907,421"/>
<ellipse cx="819.5" cy="432.6" rx="15" ry="19.2" transform="rotate(12 819.5 432.6)"/>
<path d="M823.5,413.6L830,413.8M815.5,451.5L822,452"/>
<ellipse class="w" cx="826.1" cy="432.9" rx="15" ry="19.2" transform="rotate(12 826.1 432.9)"/>
<ellipse cx="825.8" cy="434.3" rx="5.2" ry="6.6" transform="rotate(25 825.8 434.3)"/>
<path d="M829.5,430.5Q829,437 822.5,439.5"/>
<path d="M604.2,402V411.5H606.5V408.5H609V399L607.5,378Q608,371.5 612,370Q617,370.5 619,378L620.6,391V421.6H625.4V390L623.5,377Q621,367.5 612.5,367Q606,367.5 605.2,376Z"/>
<path d="M606.5,403.5V408.5M622.8,392V421"/>
<path d="M667,421.5V438" stroke-width="1.7"/>
<path d="M667,422.5Q662.5,423 662.5,427Q663,430.5 665.5,431.5L661.5,430.8M662,427.5V431"/>
<path d="M556,481L568,478.2Q577,481 581,492Q585,505 583,517Q581,524.5 578,527L560,531.6"/>
<ellipse class="w" cx="556" cy="506.4" rx="13.8" ry="25.5" transform="rotate(-4 556 506.4)"/>
<ellipse cx="556.3" cy="506.6" rx="10.6" ry="20.8" transform="rotate(-4 556.3 506.6)"/>
<ellipse cx="556.8" cy="506.8" rx="7.8" ry="15.6" transform="rotate(-4 556.8 506.8)"/>
<ellipse cx="557.3" cy="507" rx="5.6" ry="12" transform="rotate(-4 557.3 507)"/>
<path d="M605.8,466.9L613.3,464.7V457.8L622.3,455.1L626,460L640,466.5L643.1,468L646.3,470.6Q651,480 651.7,489.8Q651,497 649,498.3L641.5,509L636.2,514.3L628.7,517.5L612.7,518.6M613.3,464.7Q620,464.5 624.5,467.5Q631,474 634.5,485Q637,497 634.1,506.9Q632,512 629.8,514.3M626,460L627.7,454.6L633.5,453L640,465.3M628.8,455.6L631.9,462.6M632,455.1L635.1,464.2M616,459.4L638.3,469.5L643.1,468M638.3,469.5L637.3,477L638.3,498.3L637.3,511M627.7,514.9L629.3,517.5L635.1,516.5L636.2,513.3"/>
<ellipse class="w" cx="607.6" cy="492.8" rx="14.4" ry="25.8" transform="rotate(-5 607.6 492.8)"/>
<ellipse cx="607.8" cy="492.9" rx="11.6" ry="21.6" transform="rotate(-5 607.8 492.9)"/>
<ellipse cx="607.9" cy="493.4" rx="10.6" ry="19.6" transform="rotate(-5 607.9 493.4)"/>
<ellipse cx="607.9" cy="492.3" rx="7.3" ry="12.6" transform="rotate(-5 607.9 492.3)"/>
<path d="M658.9,448.9V457.2L662.7,459.7L669,459.1V453.4M670.3,447.7Q675,449.5 679.2,452.7Q684,457 688,462.9Q692,469 694.4,475.6Q696,480.5 698.2,483.2Q701,486 705.8,488.2L718.4,495.2M669,453.4Q672.5,453.5 675.3,455.3Q680,459.5 683,465.4Q686,472 688,480.6Q689.5,484.5 691.8,487L709.6,502.2M669,459.1Q673.5,461.5 676.6,465.4Q680,470.5 681.7,476.8Q682.8,482 682.3,487Q681.8,491.5 679.8,494.6Q678,497 675.3,497.7M658.9,489.5Q660.5,487.5 665.2,487.6Q670,488 671.5,490.8L670.3,495.8Q673.5,497.8 677.2,497.7M658.9,489.5V495.8L662.7,497.1V502.2H669Q673,504.5 677.9,505.3Q681.5,505.2 684.2,503.4Q686.5,501 688,497.1L691.8,498.4L710.8,508.5M658.9,489.5Q662,492.5 665.8,492.7Q669.5,492.5 671.5,490.8M665.8,492.7V500.5M688,497.1L683.6,504"/>
<ellipse cx="665.5" cy="448.6" rx="4.6" ry="2.7"/>
<path d="M662.5,448.9H668.5M665.5,447.5V450"/>
<circle class="w" cx="724.8" cy="508.5" r="12.7"/>
<path class="w" d="M737.5,506.6L792.4,538.2L783.6,550.6L731.1,521.2Q726.8,517 728.6,511.5Q731.5,505.6 737.5,506.6Z"/>
<path d="M784.2,542Q785,539 787.5,539.4L790,540.2L790.5,550.5L787.5,551.4Q784.5,551 784,546.5ZM787.5,539.4V551.4"/>
<path d="M788,537.5L791.5,540.5"/>
<ellipse class="w" cx="793.2" cy="547" rx="4.4" ry="5.6" transform="rotate(-15 793.2 547)"/>
<ellipse cx="794" cy="547.2" rx="3" ry="4.1" transform="rotate(-15 794 547.2)"/>
<circle class="w" cx="800" cy="550.6" r="4.8"/>
<path d="M801.5,555Q803,551 804.5,549.5"/>
<path d="M817.5,558L823,561.5M816,564L820.5,567.5"/>
<ellipse class="w" cx="817" cy="561" rx="2" ry="3.2" transform="rotate(-25 817 561)"/>
<circle class="w" cx="825.2" cy="565.8" r="5.1"/>
<path d="M821.5,562.5Q820,566 822.5,569.5"/>
<circle class="w" cx="832.4" cy="569.4" r="4.6"/>
<path d="M654.6,584.3Q649,585.5 648.3,590.2Q648.5,594.5 651.7,595L663.9,591.6M663.9,591.6Q659.5,587 660.5,583Q661,578.5 662.9,577.5M662.9,577.5Q670.1,583.7 667.3,592.6M668.4,576.1Q675.6,582.3 672.8,591.2M668.4,576.1Q665.8,579.1 666.8,583.1M673.9,574.8Q681.1,581 678.3,589.9M673.9,574.8Q671.3,577.8 672.3,581.8M679.4,573.4Q686.6,579.6 683.8,588.5M679.4,573.4Q676.8,576.4 677.8,580.4M684.9,572Q692.1,578.2 689.3,587.1M690.4,570.6Q697.6,576.9 694.8,585.8M695.9,569.3Q703.1,575.5 700.3,584.4M701.4,567.9Q708.6,574.1 705.8,583M706.9,566.5L709.8,569.2L727.9,564.8Q731.5,565 731.3,567.7Q731.5,571 730.8,572.6Q729,575.3 725.9,576L718.1,577.7"/>
<path class="wf" d="M605.3,590.8L631.8,610.3L632.4,610.5L633.2,610.3L634,609.8L634.8,608.9L635.3,608L635.6,607L635.6,606.2L635.2,605.7L608.7,586.2Z"/><path d="M605.3,590.8L631.8,610.3M608.7,586.2L635.2,605.7M605.3,590.8L605.9,591L606.7,590.8L607.5,590.3L608.3,589.4L608.8,588.5L609.1,587.5L609.1,586.7L608.7,586.2L608.1,586L607.3,586.2L606.5,586.7L605.7,587.6L605.2,588.5L604.9,589.5L604.9,590.3L605.3,590.8Z"/>
<path d="M631,611.2Q636,611.5 636.5,606"/>
</g>
<g class="lb" transform="translate(100.4,96)"><use href="#d1" x="0"/><use href="#d0" x="10"/><use href="#d9" x="20"/></g>
<g class="lb" transform="translate(131.6,116.2)"><use href="#d1" x="0"/><use href="#d0" x="10"/><use href="#d8" x="20"/></g>
<g class="lb" transform="translate(148.4,142)"><use href="#d1" x="0"/><use href="#d0" x="10"/><use href="#d7" x="20"/></g>
<g class="lb" transform="translate(106.2,180.6)"><use href="#d1" x="0"/><use href="#d2" x="10"/><use href="#d0" x="20"/></g>
<g class="lb" transform="translate(164.3,245)"><use href="#d1" x="0"/><use href="#d1" x="10"/><use href="#d7" x="20"/></g>
<g class="lb" transform="translate(382.3,82.6)"><use href="#d1" x="0"/><use href="#d2" x="10"/><use href="#d5" x="20"/></g>
<g class="lb" transform="translate(419.5,75)"><use href="#d1" x="0"/><use href="#d3" x="10"/><use href="#d0" x="20"/></g>
<g class="lb" transform="translate(557.2,61.4)"><use href="#d1" x="0"/><use href="#d5" x="10"/><use href="#d5" x="20"/></g>
<g class="lb" transform="translate(542.2,93.6)"><use href="#d1" x="0"/><use href="#d5" x="10"/><use href="#d2" x="20"/></g>
<g class="lb" transform="translate(621.4,95.2)"><use href="#d1" x="0"/><use href="#d5" x="10"/><use href="#d5" x="20"/></g>
<g class="lb" transform="translate(602.8,131)"><use href="#d1" x="0"/><use href="#d5" x="10"/><use href="#d0" x="20"/></g>
<g class="lb" transform="translate(536.2,159)"><use href="#d1" x="0"/><use href="#d4" x="10"/><use href="#d5" x="20"/></g>
<g class="lb" transform="translate(569.8,199.4)"><use href="#d1" x="0"/><use href="#d3" x="10"/><use href="#d5" x="20"/></g>
<g class="lb" transform="translate(573.4,234.8)"><use href="#d1" x="0"/><use href="#d4" x="10"/><use href="#d0" x="20"/></g>
<g class="lb" transform="translate(336.2,308)"><use href="#d1" x="0"/><use href="#d1" x="10"/><use href="#d5" x="20"/></g>
<g class="lb" transform="translate(489.8,333.6)"><use href="#d1" x="0"/><use href="#d0" x="10"/><use href="#d5" x="20"/></g>
<g class="lb" transform="translate(108.8,377)"><use href="#d1" x="0"/><use href="#d6" x="10"/><use href="#d0" x="20"/></g>
<g class="lb" transform="translate(401.2,410.2)"><use href="#d1" x="0"/><use href="#d6" x="10"/><use href="#d5" x="20"/></g>
<g class="lb" transform="translate(445.6,404.2)"><use href="#d1" x="0"/><use href="#d7" x="10"/><use href="#d0" x="20"/></g>
<g class="lb" transform="translate(270.4,563)"><use href="#d1" x="0"/><use href="#d7" x="10"/><use href="#d5" x="20"/></g>
<g class="lb" transform="translate(464.2,516)"><use href="#d1" x="0"/><use href="#d8" x="10"/><use href="#d0" x="20"/></g>
<g class="lb" transform="translate(464.2,549.2)"><use href="#d1" x="0"/><use href="#d8" x="10"/><use href="#d5" x="20"/></g>
<g class="lb" transform="translate(723.4,325.4)"><use href="#d1" x="0"/><use href="#d9" x="10"/><use href="#d5" x="20"/></g>
<g class="lb" transform="translate(746.2,351.4)"><use href="#d1" x="0"/><use href="#d9" x="10"/><use href="#d6" x="20"/></g>
<g class="lb" transform="translate(788.4,360)"><use href="#d1" x="0"/><use href="#d9" x="10"/><use href="#d0" x="20"/></g>
<g class="lb" transform="translate(865.2,365.6)"><use href="#d1" x="0"/><use href="#d9" x="10"/><use href="#d9" x="20"/></g>
<g class="lb" transform="translate(894.8,380.6)"><use href="#d1" x="0"/><use href="#d9" x="10"/><use href="#d8" x="20"/></g>
<g class="lb" transform="translate(920.2,400)"><use href="#d1" x="0"/><use href="#d9" x="10"/><use href="#d7" x="20"/></g>
<g class="lb" transform="translate(844.3,422)"><use href="#d2" x="0"/><use href="#d0" x="10"/><use href="#d0" x="20"/></g>
<g class="lb" transform="translate(562.7,401)"><use href="#d2" x="0"/><use href="#d1" x="10"/><use href="#d0" x="20"/></g>
<g class="lb" transform="translate(672.3,423.4)"><use href="#d2" x="0"/><use href="#d1" x="10"/><use href="#d4" x="20"/></g>
<g class="lb" transform="translate(745.7,491.6)"><use href="#d2" x="0"/><use href="#d1" x="10"/><use href="#d1" x="20"/></g>
<g class="lb" transform="translate(553.7,539)"><use href="#d2" x="0"/><use href="#d0" x="10"/><use href="#d5" x="20"/></g>
<g class="lb" transform="translate(613.3,527.4)"><use href="#d2" x="0"/><use href="#d0" x="10"/><use href="#d1" x="20"/></g>
<g class="lb" transform="translate(833.3,546.6)"><use href="#d2" x="0"/><use href="#d1" x="10"/><use href="#d2" x="20"/></g>
<g class="lb" transform="translate(673.7,598)"><use href="#d2" x="0"/><use href="#d1" x="10"/><use href="#d5" x="20"/></g>
<g class="lb" transform="translate(588.7,614.4)"><use href="#d2" x="0"/><use href="#d2" x="10"/><use href="#d0" x="20"/></g>
<g id="logo">
<path fill="#ea8198" fill-rule="evenodd" d="M976,724.2L980.7,728.2L978,730.4L972.3,727.2L968.5,728.6L970.8,733.1L966.3,733.6L962.4,729.3L957.3,728.9L956.7,732.8L951.5,731.6L950.1,727.2L945,725.1L941.6,727.5L936.8,724.7L938.4,721.2L934.3,717.9L928.9,718.3L925.7,714.7L929.9,712.8L927.7,709L921.6,707.3L920.7,703.6L926.5,703.9L926.8,700.5L921.3,697.1L922.9,694.2L929,696.6L931.7,694.3L928.1,690L931.8,688.6L936.8,692.4L941.3,691.9L940.5,687.6L945.5,688L948.2,692.4L953.5,693.7L955.6,690.4L960.7,692.5L960.6,696.6L965.3,699.4L969.9,697.9L974,701.2L971,704L974.2,707.7L980.2,708.3L982.3,712.1L977.2,712.9L978.1,716.6L984.1,719.2L983.7,722.6L977.6,721.3ZM967.3,716L967.4,714.4L967.1,712.8L966.4,711.1L965.4,709.3L964.1,707.6L962.5,706L960.6,704.5L958.5,703.2L956.3,702L954,701.1L951.6,700.3L949.2,699.9L947,699.7L944.8,699.7L942.9,700.1L941.1,700.6L939.7,701.5L938.5,702.5L937.7,703.8L937.3,705.2L937.2,706.8L937.5,708.4L938.2,710.1L939.2,711.9L940.5,713.6L942.1,715.2L944,716.7L946.1,718L948.3,719.2L950.6,720.1L953,720.9L955.4,721.3L957.6,721.5L959.8,721.5L961.7,721.1L963.5,720.6L964.9,719.7L966.1,718.7L966.9,717.4Z"/>
<path fill="#fff" d="M919,683Q912.5,689 911.5,693.4Q910,698 911.5,701Q913,704 915.4,705.2Q920,709.5 926.4,712.8L937.7,717.8L949,721.3Q958,723 968,723L969,742H893V683Z"/>
<path fill="#d9dbd3" d="M892.2,725.5Q891.8,722 899.2,720.8Q905,720 913,720.3Q901,722.3 897.5,724.6Q896,727.2 902,729.6Q925,737.3 955,736Q972,734.8 983,731Q975,735.8 955,738Q925,740 902,734Q893,731 892.2,725.5Z"/>
<path fill="#d9dbd3" d="M912,729.5Q930,734.2 955,733Q972,731.8 982,728.8Q976,728 968,728.2Q950,731.6 930,730.8Q920,730.3 912,729.5Z"/>
<path fill="#d9dbd3" d="M897,737Q925,743.5 955,741Q962,740.3 968,739Q950,740.5 930,740Q912,739.5 897,737Z"/>
<path fill="#ea8198" d="M918,685.2Q910,687.5 906.3,690Q902.5,693 901.6,696.4Q901.2,701 903.3,705.2Q907,710 913.3,713.4L925,719.2L936.7,723.3L948.5,725.7Q958,726.5 966,725.1Q957,724.8 948.5,723.3L936.7,719.8L925,714.5Q918,710.5 913.3,706.3Q908.5,702.5 907.4,699.3Q907.5,696 909.2,693.4Q912,688.5 918,685.2Z"/>
<path fill="#ea8198" d="M901.3,709.3Q910,717 919.2,721.6Q930,726 942.6,728.2Q952,729.5 960.2,729.8Q950,731.5 942.6,730.8Q930,729.5 919.2,726.3Q909,722.5 901.3,716.9Z"/>
<path fill="#ea8198" d="M965.5,727.5L971.5,723.2L976.5,731.2L970.5,734.8Z"/>
<text text-anchor="middle" font-family="Liberation Sans, sans-serif" font-size="18.5" fill="#8a8a8a" transform="translate(876.4,723.2) rotate(279.6)">T</text>
<text text-anchor="middle" font-family="Liberation Sans, sans-serif" font-size="18.5" fill="#8a8a8a" transform="translate(880,710.4) rotate(292)">R</text>
<text text-anchor="middle" font-family="Liberation Sans, sans-serif" font-size="18.5" fill="#8a8a8a" transform="translate(886.9,697.9) rotate(305.4)">U</text>
<text text-anchor="middle" font-family="Liberation Sans, sans-serif" font-size="18.5" fill="#8a8a8a" transform="translate(896.5,687.2) rotate(318.8)">C</text>
<text text-anchor="middle" font-family="Liberation Sans, sans-serif" font-size="18.5" fill="#8a8a8a" transform="translate(907.8,679.4) rotate(331.7)">K</text>
<text text-anchor="middle" font-family="Liberation Sans, sans-serif" font-size="18.5" fill="#8a8a8a" transform="translate(921.6,674) rotate(345.5)">M</text>
<text text-anchor="middle" font-family="Liberation Sans, sans-serif" font-size="18.5" fill="#8a8a8a" transform="translate(936.3,672) rotate(359.4)">A</text>
<text text-anchor="middle" font-family="Liberation Sans, sans-serif" font-size="18.5" fill="#8a8a8a" transform="translate(948.6,673.1) rotate(370.9)">L</text>
<text text-anchor="middle" font-family="Liberation Sans, sans-serif" font-size="18.5" fill="#8a8a8a" transform="translate(959.4,676.2) rotate(381.4)">L</text>
<text text-anchor="middle" font-family="Liberation Sans, sans-serif" font-size="18.5" fill="#ea8198" transform="translate(970.4,681.8) rotate(392.8)">P</text>
<text text-anchor="middle" font-family="Liberation Sans, sans-serif" font-size="18.5" fill="#ea8198" transform="translate(980.7,690.2) rotate(405.3)">A</text>
<text text-anchor="middle" font-family="Liberation Sans, sans-serif" font-size="18.5" fill="#ea8198" transform="translate(989.3,701.1) rotate(418.2)">R</text>
<text text-anchor="middle" font-family="Liberation Sans, sans-serif" font-size="18.5" fill="#ea8198" transform="translate(995,713.1) rotate(430.6)">T</text>
<text text-anchor="middle" font-family="Liberation Sans, sans-serif" font-size="18.5" fill="#ea8198" transform="translate(998,725.5) rotate(442.5)">S</text>
</g>
</svg>
</body></html>
